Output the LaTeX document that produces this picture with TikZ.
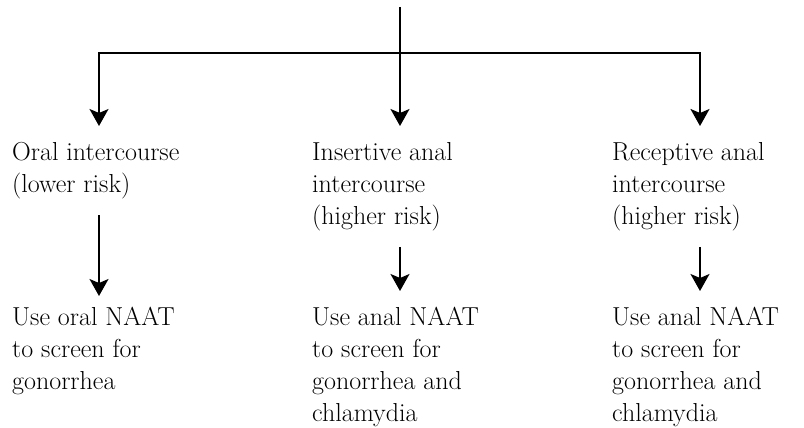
\documentclass[tikz,border=0pt]{standalone}
\usetikzlibrary{positioning, calc, arrows.meta}

\tikzset{
	note/.style={anchor=north west, align=left, inner xsep=0pt, inner ysep=16pt, font=\fontsize{26}{32}\selectfont},
	conn/.style={line width=1.8pt, -{Stealth[length=17pt, width=19pt, inset=4pt]}},
	bar/.style={line width=1.8pt}
}

\begin{document}
\begin{tikzpicture}[x=1pt, y=-1pt]
		\useasboundingbox (0, 0) rectangle (804, 428);
		\coordinate (root) at (400, 7);
		\coordinate (hub) at (400, 53);
		\coordinate (hubL) at (99, 53);
		\coordinate (hubR) at (700, 53);
		\node[note] (oral) at (12, 126) {Oral intercourse\\(lower risk)};
		\node[note] (insertive) at (312, 126) {Insertive anal\\intercourse\\(higher risk)};
		\node[note] (receptive) at (612, 126) {Receptive anal\\intercourse\\(higher risk)};
		\node[note] (oralTest) at (12, 291) {Use oral NAAT\\to screen for\\gonorrhea};
		\node[note] (insertiveTest) at (312, 291) {Use anal NAAT\\to screen for\\gonorrhea and\\chlamydia};
		\node[note] (receptiveTest) at (612, 291) {Use anal NAAT\\to screen for\\gonorrhea and\\chlamydia};
		\draw[bar] (root) -- (hub);
		\draw[bar, line cap=rect] (hubL) -- (hubR);
		\draw[conn] (hubL) -- (hubL |- oral.north);
		\draw[conn] (hub) -- (hub |- insertive.north);
		\draw[conn] (hubR) -- (hubR |- receptive.north);
		\draw[conn, shorten >=-5pt] (hubL |- oral.south) -- (hubL |- oralTest.north);
		\draw[conn] (hub |- insertive.south) -- (hub |- insertiveTest.north);
		\draw[conn] (hubR |- receptive.south) -- (hubR |- receptiveTest.north);
	\end{tikzpicture}
\end{document}
